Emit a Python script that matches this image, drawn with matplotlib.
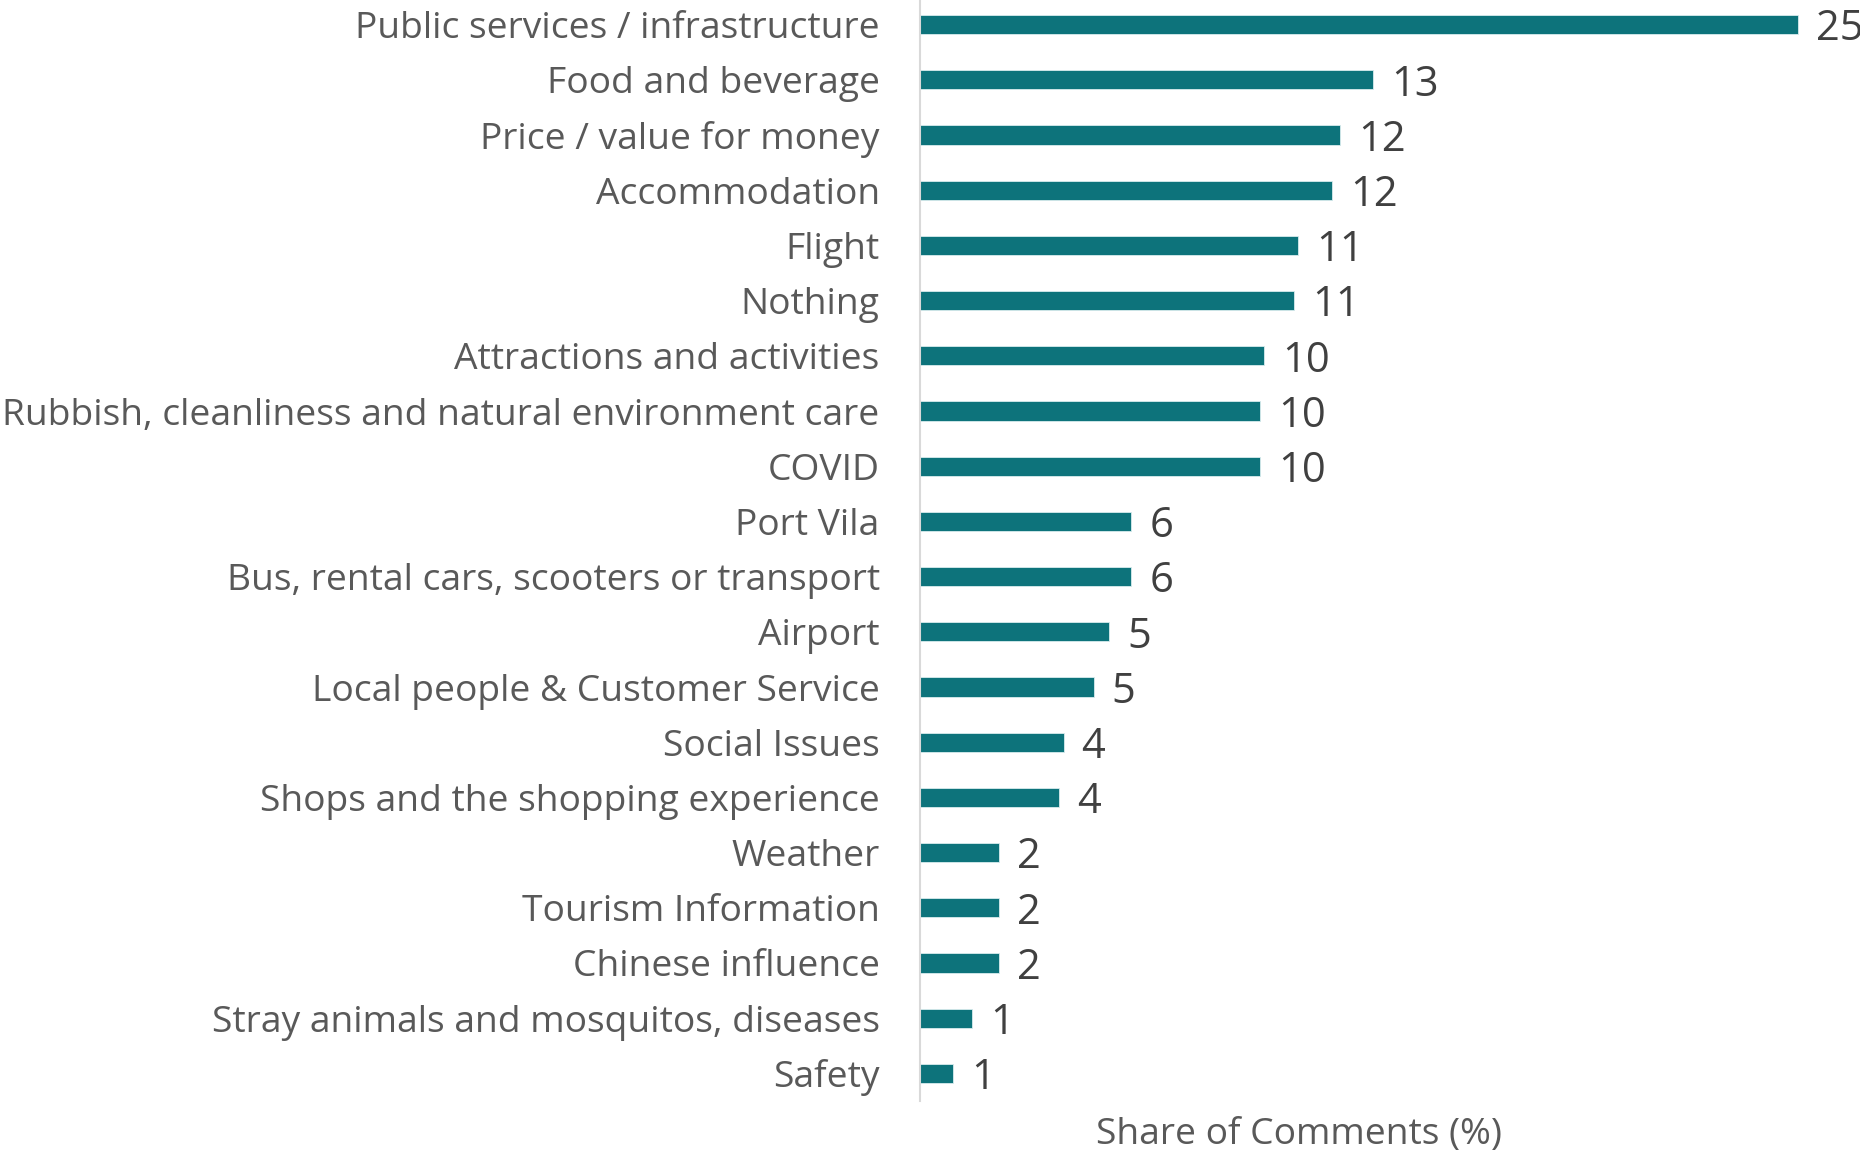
import matplotlib.pyplot as plt

plt.rcParams['font.family'] = ['Open Sans', 'DejaVu Sans']

# Share of comments by topic, top to bottom
topics = [
    'Public services / infrastructure',
    'Food and beverage',
    'Price / value for money',
    'Accommodation',
    'Flight',
    'Nothing',
    'Attractions and activities',
    'Rubbish, cleanliness and natural environment care',
    'COVID',
    'Port Vila',
    'Bus, rental cars, scooters or transport',
    'Airport',
    'Local people & Customer Service',
    'Social Issues',
    'Shops and the shopping experience',
    'Weather',
    'Tourism Information',
    'Chinese influence',
    'Stray animals and mosquitos, diseases',
    'Safety',
]
shares = [25.0, 12.91, 11.97, 11.74, 10.78, 10.66, 9.80, 9.69, 9.69, 6.02,
          6.02, 5.39, 4.95, 4.09, 3.97, 2.26, 2.26, 2.26, 1.49, 0.95]

bar_color = '#0d737b'
label_color = '#595959'
value_color = '#404040'

fig = plt.figure(figsize=(18.6, 11.53), dpi=100)
ax = fig.add_axes([920 / 1860, 52 / 1153, 940 / 1860, 1104 / 1153])

pos = list(range(len(topics)))
bars = ax.barh(pos, shares, height=0.345, color=bar_color,
               edgecolor='#d8ecee', linewidth=0.6)

ax.set_ylim(len(topics) - 0.5, -0.5)
ax.set_xlim(0, 26.78)
ax.set_yticks(pos)
ax.set_yticklabels(topics, fontsize=26.8, color=label_color)
ax.tick_params(axis='y', length=0, pad=29)
ax.set_xticks([])

for side in ['top', 'right', 'bottom']:
    ax.spines[side].set_visible(False)
ax.spines['left'].set_color('#d9d9d9')
ax.spines['left'].set_linewidth(1.5)

for b, v in zip(bars, shares):
    ax.annotate(f'{v:.0f}', xy=(b.get_width(), b.get_y() + b.get_height() / 2),
                xytext=(13, -3.5), textcoords='offset points',
                ha='left', va='center', fontsize=30, color=value_color,
                annotation_clip=False)

fig.text(1299 / 1860, 18 / 1153, 'Share of Comments (%)', ha='center',
         va='center', fontsize=26.8, color=label_color)

fig.savefig('out.png', dpi=100, facecolor='white')
